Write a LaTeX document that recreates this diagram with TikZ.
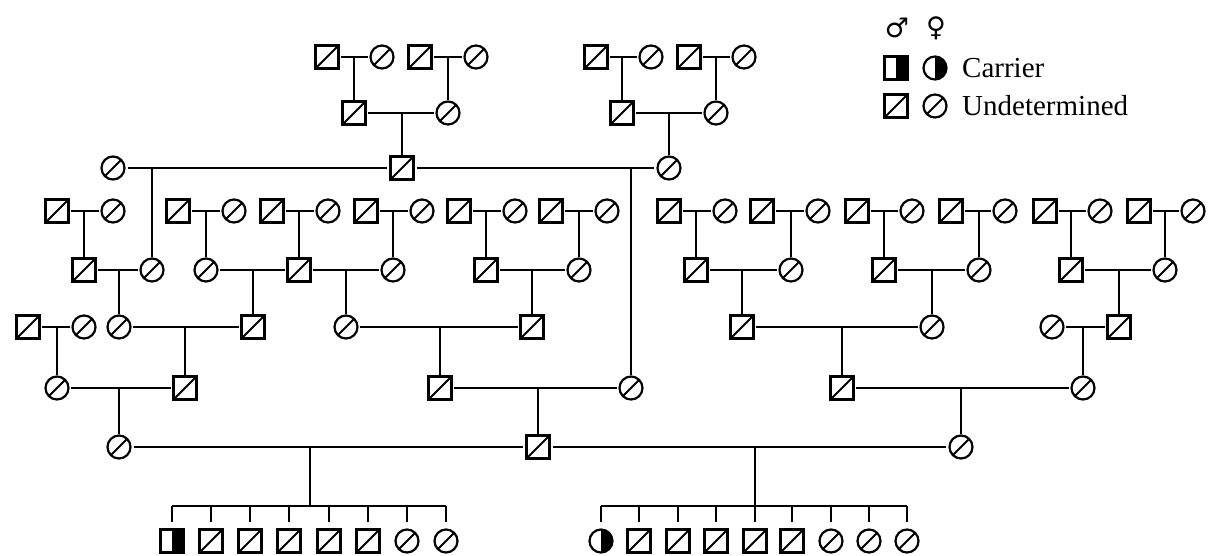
\documentclass[tikz,border=0pt]{standalone}
\usepackage{fontspec}
\setmainfont{Liberation Serif}
\newfontfamily\symfont{DejaVu Sans}
\tikzset{
  person/.style={draw, line width=2.2pt, inner sep=0pt, minimum size=23pt, fill=white},
  male/.style={person, rectangle,
    path picture={\draw[black, line width=1.8pt] (path picture bounding box.south west) -- (path picture bounding box.north east);}},
  female/.style={person, circle,
    path picture={\draw[black, line width=1.8pt] (path picture bounding box.south west) -- (path picture bounding box.north east);}},
  cmale/.style={person, rectangle,
    path picture={\fill[black] (path picture bounding box.south) rectangle (path picture bounding box.north east);}},
  cfemale/.style={person, circle,
    path picture={\fill[black] (path picture bounding box.south) rectangle (path picture bounding box.north east);}},
  rel/.style={line width=2.1pt, shorten <=1.5pt, shorten >=1.5pt},
  longrel/.style={line width=2.8pt, shorten <=2pt, shorten >=2pt},
  line/.style={line width=2.1pt},
  stub/.style={line width=2.1pt, shorten >=6pt},
  legendtext/.style={anchor=base west, inner sep=0pt, font=\fontsize{29}{31}\selectfont},
  sexsign/.style={font=\symfont\fontsize{27}{29}\selectfont, inner sep=0pt},
}
% couple: #1 left partner, #2 right partner, #3 child
\newcommand\couple[3]{%
  \draw[rel] (#1.east) -- (#2.west);
  \draw[line] (#1.east -| #3) -- (#3.north);}
\begin{document}
\begin{tikzpicture}[x=1pt,y=-1pt]
\useasboundingbox[fill=white] (0,0) rectangle (1214,556);

% generation I
\node[male] (m1a) at (327,57) {};   \node[female] (f1a) at (382,57) {};
\node[male] (m1b) at (420,57) {};   \node[female] (f1b) at (476,57) {};
\node[male] (m1c) at (596,57) {};   \node[female] (f1c) at (651,57) {};
\node[male] (m1d) at (689,57) {};   \node[female] (f1d) at (744,57) {};

% generation II
\node[male] (m2a) at (354,113) {};  \node[female] (f2a) at (448,113) {};
\node[male] (m2b) at (622,113) {};  \node[female] (f2b) at (716,113) {};

% generation III
\node[female] (f3a) at (113,168) {};
\node[male] (m3a) at (402,168) {};
\node[female] (f3b) at (669,168) {};

% generation IV
\node[male] (m4a) at (57,211) {};   \node[female] (f4a) at (113,211) {};
\node[male] (m4b) at (178,211) {};  \node[female] (f4b) at (234,211) {};
\node[male] (m4c) at (272,211) {};  \node[female] (f4c) at (328,211) {};
\node[male] (m4d) at (366,211) {};  \node[female] (f4d) at (422,211) {};
\node[male] (m4e) at (459,211) {};  \node[female] (f4e) at (515,211) {};
\node[male] (m4f) at (551,211) {};  \node[female] (f4f) at (607,211) {};
\node[male] (m4g) at (669,211) {};  \node[female] (f4g) at (725,211) {};
\node[male] (m4h) at (762,211) {};  \node[female] (f4h) at (818,211) {};
\node[male] (m4i) at (857,211) {};  \node[female] (f4i) at (912,211) {};
\node[male] (m4j) at (951,211) {};  \node[female] (f4j) at (1005,211) {};
\node[male] (m4k) at (1045,211) {}; \node[female] (f4k) at (1100,211) {};
\node[male] (m4l) at (1139,211) {}; \node[female] (f4l) at (1193,211) {};

% generation V
\node[male] (m5a) at (84,270) {};   \node[female] (f5a) at (152,270) {};
\node[female] (f5b) at (206,270) {}; \node[male] (m5b) at (299,270) {};
\node[female] (f5c) at (393,270) {};
\node[male] (m5c) at (486,270) {};  \node[female] (f5d) at (579,270) {};
\node[male] (m5d) at (696,270) {};  \node[female] (f5e) at (791,270) {};
\node[male] (m5e) at (884,270) {};  \node[female] (f5f) at (979,270) {};
\node[male] (m5f) at (1071,270) {}; \node[female] (f5g) at (1165,270) {};

% generation VI
\node[male] (m6a) at (28,327) {};   \node[female] (f6a) at (84,327) {};
\node[female] (f6b) at (119,327) {}; \node[male] (m6b) at (253,327) {};
\node[female] (f6c) at (346,327) {}; \node[male] (m6c) at (532,327) {};
\node[male] (m6d) at (742,327) {};  \node[female] (f6d) at (932,327) {};
\node[female] (f6e) at (1052,327) {}; \node[male] (m6e) at (1119,327) {};

% generation VII
\node[female] (f7a) at (57,388) {};  \node[male] (m7a) at (185,388) {};
\node[male] (m7b) at (440,388) {};   \node[female] (f7b) at (631,388) {};
\node[male] (m7c) at (842,388) {};   \node[female] (f7c) at (1083,388) {};

% generation VIII
\node[female] (f8a) at (119,447) {};
\node[male] (m8a) at (538,447) {};
\node[female] (f8b) at (961,447) {};

% children of f8a x m8a
\node[cmale] (ka1) at (172,541) {};
\node[male] (ka2) at (211,541) {};
\node[male] (ka3) at (250,541) {};
\node[male] (ka4) at (289,541) {};
\node[male] (ka5) at (329,541) {};
\node[male] (ka6) at (368,541) {};
\node[female] (ka7) at (407,541) {};
\node[female] (ka8) at (446,541) {};

% children of m8a x f8b
\node[cfemale] (kb1) at (601,541) {};
\node[male] (kb2) at (639,541) {};
\node[male] (kb3) at (678,541) {};
\node[male] (kb4) at (716,541) {};
\node[male] (kb5) at (755,541) {};
\node[male] (kb6) at (792,541) {};
\node[female] (kb7) at (831,541) {};
\node[female] (kb8) at (869,541) {};
\node[female] (kb9) at (907,541) {};

\coordinate (sa) at (310,506);
\coordinate (sb) at (755,506);

% unions and descent lines
\couple{m1a}{f1a}{m2a}
\couple{m1b}{f1b}{f2a}
\couple{m1c}{f1c}{m2b}
\couple{m1d}{f1d}{f2b}
\couple{m2a}{f2a}{m3a}
\couple{m2b}{f2b}{f3b}

\draw[longrel] (f3a.east) -- (m3a.west);
\draw[line] (f3a.east -| f5a) -- (f5a.north);
\draw[longrel] (m3a.east) -- (f3b.west);
\draw[line] (m3a.east -| f7b) -- (f7b.north);

\couple{m4a}{f4a}{m5a}
\couple{m4b}{f4b}{f5b}
\couple{m4c}{f4c}{m5b}
\couple{m4d}{f4d}{f5c}
\couple{m4e}{f4e}{m5c}
\couple{m4f}{f4f}{f5d}
\couple{m4g}{f4g}{m5d}
\couple{m4h}{f4h}{f5e}
\couple{m4i}{f4i}{m5e}
\couple{m4j}{f4j}{f5f}
\couple{m4k}{f4k}{m5f}
\couple{m4l}{f4l}{f5g}

\couple{m5a}{f5a}{f6b}
\couple{f5b}{m5b}{m6b}
\couple{m5b}{f5c}{f6c}
\couple{m5c}{f5d}{m6c}
\couple{m5d}{f5e}{m6d}
\couple{m5e}{f5f}{f6d}
\couple{m5f}{f5g}{m6e}

\couple{m6a}{f6a}{f7a}
\couple{f6b}{m6b}{m7a}
\couple{f6c}{m6c}{m7b}
\couple{m6d}{f6d}{m7c}
\couple{f6e}{m6e}{f7c}

\couple{f7a}{m7a}{f8a}
\couple{m7b}{f7b}{m8a}
\couple{m7c}{f7c}{f8b}

\draw[longrel] (f8a.east) -- (m8a.west);
\draw[line] (f8a.east -| sa) -- (sa);
\draw[longrel] (m8a.east) -- (f8b.west);
\draw[line] (m8a.east -| sb) -- (sb);

% sibships
\draw[line] (ka1 |- sa) -- (ka8 |- sa);
\foreach \k in {ka1,ka2,ka3,ka4,ka5,ka6,ka7,ka8}
  \draw[stub] (\k |- sa) -- (\k.north);
\draw[line] (kb1 |- sb) -- (kb9 |- sb);
\foreach \k in {kb1,kb2,kb3,kb4,kb5,kb6,kb7,kb8,kb9}
  \draw[stub] (\k |- sb) -- (\k.north);

% legend
\node[sexsign] (sexm) at (897,28) {♂};
\node[sexsign] (sexf) at (936,28) {♀};
\node[cmale] (lcm) at (896,68) {};
\node[cfemale] (lcf) at (935,68) {};
\node[male] (lum) at (896,106) {};
\node[female] (luf) at (935,106) {};
\node[legendtext] (lct) at (962,78) {Carrier};
\node[legendtext] (lut) at (962,116) {Undetermined};
\end{tikzpicture}
\end{document}
